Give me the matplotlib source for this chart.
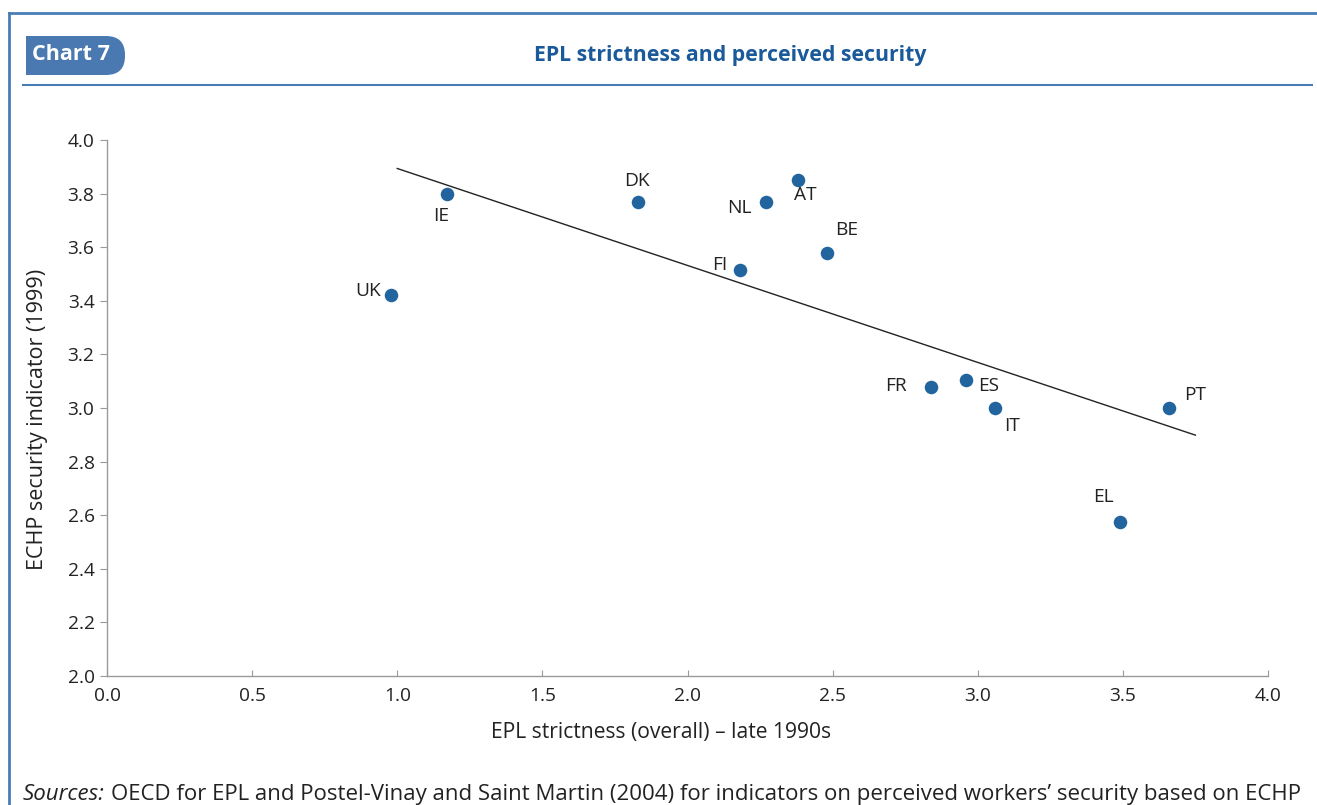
import matplotlib
matplotlib.use('Agg')
import matplotlib.pyplot as plt
import numpy as np
from matplotlib.patches import FancyBboxPatch, Rectangle

plt.rcParams['font.family'] = ['Open Sans', 'DejaVu Sans']

# data
countries = ['UK', 'IE', 'DK', 'NL', 'AT', 'FI', 'BE', 'FR', 'ES', 'IT', 'PT', 'EL']
epl = [0.98, 1.17, 1.83, 2.27, 2.38, 2.18, 2.48, 2.84, 2.96, 3.06, 3.66, 3.49]
security = [3.42, 3.80, 3.77, 3.77, 3.85, 3.515, 3.58, 3.08, 3.105, 3.0, 3.0, 2.575]
trend_x = [1.0, 3.75]

# label offsets (pixels) for each country
label_pos = {
    'UK': (-23, 4), 'IE': (-5, -22), 'DK': (-1, 21), 'NL': (-26, -6),
    'AT': (8, -15), 'FI': (-20, 5), 'BE': (20, 23), 'FR': (-35, 1),
    'ES': (22, -6), 'IT': (17, -18), 'PT': (26, 13), 'EL': (-17, 25),
}

blue_dot = '#22659e'
blue_title = '#1a5a9a'
blue_frame = '#4a7db5'
grey = '#9a9a9a'
txt = '#222222'

fig = plt.figure(figsize=(13.17, 8.05), dpi=100)

# overlay in pixel units for frame and header
bg = fig.add_axes([0, 0, 1, 1], zorder=-1)
bg.set_xlim(0, 1317)
bg.set_ylim(805, 0)
bg.axis('off')
bg.plot([9, 9], [805, 13], color=blue_frame, lw=2)
bg.plot([9, 1317], [13, 13], color=blue_frame, lw=2)
bg.plot([23, 1312], [85, 85], color=blue_frame, lw=1.5)
bg.add_patch(FancyBboxPatch((26, 36), 99, 39, boxstyle='round,pad=0,rounding_size=19',
                            color='#4a78b0', lw=0))
bg.add_patch(Rectangle((26, 36), 40, 39, color='#4a78b0', lw=0))
bg.text(32, 55, 'Chart 7', color='white', fontsize=15.5, fontweight='bold',
        va='center', ha='left')
bg.text(730, 55, 'EPL strictness and perceived security', color=blue_title,
        fontsize=15.3, fontweight='bold', va='center', ha='center')

ax = fig.add_axes([107 / 1317, 1 - 676 / 805, (1268 - 107) / 1317, (676 - 140) / 805])
ax.scatter(epl, security, s=95, color=blue_dot, zorder=3, linewidths=0)

coef = np.polyfit(epl, security, 1)
tx = np.array(trend_x)
ax.plot(tx, np.polyval(coef, tx), color=txt, lw=1)

for c, x, y in zip(countries, epl, security):
    dx, dy = label_pos[c]
    ax.annotate(c, (x, y), xytext=(dx, dy), textcoords='offset pixels',
                ha='center', va='center', fontsize=13.8, color=txt)

ax.set_xlim(0, 4)
ax.set_ylim(2, 4)
xt = np.arange(0, 4.01, 0.5)
yt = np.arange(2, 4.01, 0.2)
ax.set_xticks(xt)
ax.set_yticks(yt)
ax.set_xticklabels(['{:.1f}'.format(v) for v in xt])
ax.set_yticklabels(['{:.1f}'.format(v) for v in yt])
ax.tick_params(axis='x', direction='in', length=4, color=grey, labelsize=13.8, pad=8, labelcolor=txt)
ax.tick_params(axis='y', direction='out', length=5, color=grey, labelsize=13.8, pad=4, labelcolor=txt)
for s in ['top', 'right']:
    ax.spines[s].set_visible(False)
for s in ['left', 'bottom']:
    ax.spines[s].set_color(grey)
    ax.spines[s].set_linewidth(1)

ax.set_xlabel('EPL strictness (overall) \u2013 late 1990s', fontsize=15.2, color=txt, labelpad=12)
ax.set_ylabel('ECHP security indicator (1999)', fontsize=15.5, color=txt, labelpad=14)
ax.xaxis.label.set_x((661 - 107) / 1161)
ax.yaxis.label.set_y((676 - 419) / 536)

t1 = bg.text(23, 794, 'Sources:', fontsize=16.0, style='italic', color=txt, va='center')
fig.canvas.draw()
bb = t1.get_window_extent()
x_end = bb.x1 + 6
bg.text(x_end, 794,
        'OECD for EPL and Postel-Vinay and Saint Martin (2004) for indicators on perceived workers\u2019 security based on ECHP',
        fontsize=16.0, color=txt, va='center')

fig.savefig('out.png', dpi=100)
